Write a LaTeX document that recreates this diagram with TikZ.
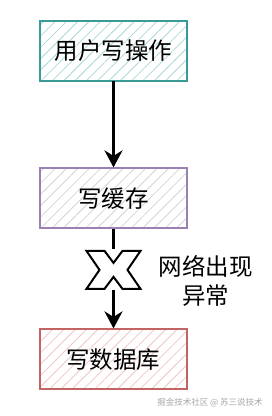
\documentclass[tikz,border=0pt]{standalone}
\usepackage{fontspec}
\setmainfont{Noto Sans CJK SC}
\usepackage{xcolor}
\usetikzlibrary{arrows.meta, positioning, patterns.meta}

\definecolor{tealline}{HTML}{3A9A96}
\definecolor{tealhatch}{HTML}{A8DAD5}
\definecolor{purpline}{HTML}{9B80B3}
\definecolor{purphatch}{HTML}{D5D2D8}
\definecolor{redline}{HTML}{C26464}
\definecolor{redhatch}{HTML}{F0C6C6}

\begin{document}
\begin{tikzpicture}[
        x=1pt, y=1pt,
        font=\fontsize{23.5}{29.5}\selectfont,
        line width=3pt,
        box/.style={
            line width=2pt,
            minimum width=147pt,
            minimum height=60pt,
            inner sep=0pt,
            align=center
        },
        hatch/.style={
            pattern={Lines[angle=45, distance=8pt, line width=0.8pt]},
            pattern color=#1
        },
        flow/.style={
            -{Stealth[length=17pt, width=18pt]},
            line width=3pt
        },
        xmark/.style={
            draw=black,
            fill=white,
            line width=2pt,
            line join=miter
        }
    ]

        \useasboundingbox (0,0) rectangle (272,416);

        \node[box, draw=tealline, hatch=tealhatch] (user) at (113.5,365) {用户写操作};
        \node[box, draw=purpline, hatch=purphatch, below=86pt of user] (cache) {写缓存};
        \node[inner sep=0pt, minimum width=54pt, minimum height=38pt, below=20pt of cache] (brk) {};
        \node[box, draw=redline, hatch=redhatch, below=38pt of brk] (db) {写数据库};

        \node[align=center, right=12pt of brk, yshift=-11pt] (neterr) {网络出现\\异常};

        \draw[flow] (user) -- (cache);
        \draw (cache) -- (brk);
        \draw[flow] (brk) -- (db);

        % broken link mark
        \draw[xmark, shift={(brk.center)}]
            (-27,19) -- (-9,19) -- (0,7) -- (9,19) -- (27,19) -- (14,0)
            -- (27,-19) -- (9,-19) -- (0,-7) -- (-9,-19) -- (-27,-19) -- (-14,0) -- cycle;

        \node[font=\fontsize{8.5}{9}\selectfont, text=gray!70] (mark) at (210,13) {掘金技术社区 @ 苏三说技术};

    \end{tikzpicture}
\end{document}
